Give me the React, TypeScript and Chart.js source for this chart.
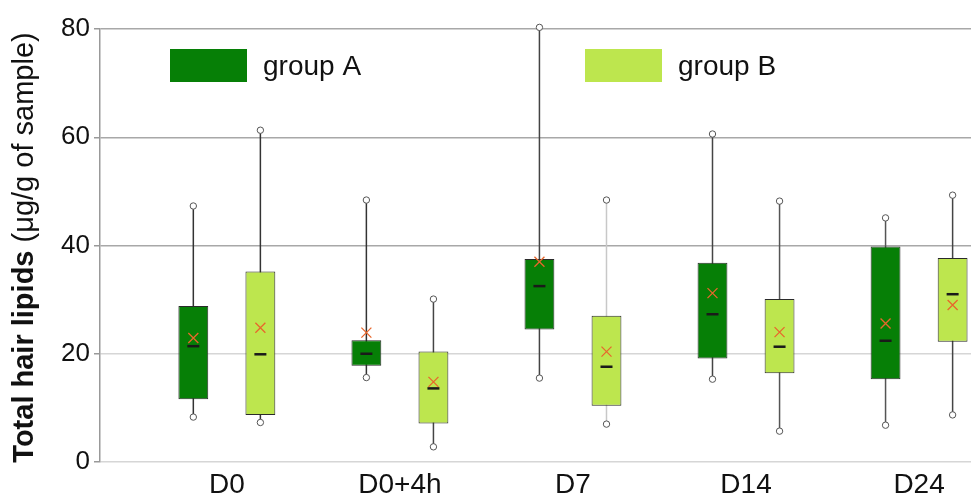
import React, { useEffect, useRef } from 'react';
import { Chart, registerables } from 'chart.js';

Chart.register(...registerables);

// ---- data ----
const categories = ['D0', 'D0+4h', 'D7', 'D14', 'D24'];
const seriesNames = ['group A', 'group B'];
const yTickValues = [0, 20, 40, 60, 80];
const yTitleBold = 'Total hair lipids';
const yTitleNormal = ' (μg/g of sample)';

const groupAMin = [8.3, 15.6, 15.5, 15.3, 6.8];
const groupAQ1 = [11.6, 17.8, 24.5, 19.1, 15.3];
const groupAMedian = [21.4, 20.0, 32.5, 27.3, 22.4];
const groupAMean = [22.9, 23.9, 37.0, 31.2, 25.6];
const groupAQ3 = [28.8, 22.5, 37.5, 36.8, 39.8];
const groupAMax = [47.3, 48.4, 80.3, 60.6, 45.1];

const groupBMin = [7.3, 2.8, 7.0, 5.7, 8.7];
const groupBQ1 = [8.7, 7.1, 10.4, 16.4, 22.2];
const groupBMedian = [19.9, 13.6, 17.6, 21.3, 31.0];
const groupBMean = [24.8, 14.8, 20.4, 24.0, 29.0];
const groupBQ3 = [35.2, 20.4, 27.0, 30.1, 37.7];
const groupBMax = [61.3, 30.1, 48.4, 48.2, 49.3];

// ---- styles ----
const FONT = "'Liberation Sans', Arial, sans-serif";
const colorA = '#067f06';
const colorB = '#bde64e';
const whiskerA = ['#333', '#333', '#444', '#444', '#555'];
const whiskerB = ['#333', '#444', '#c8c8c8', '#555', '#444'];

const groups = [
  { min: groupAMin, q1: groupAQ1, med: groupAMedian, mean: groupAMean, q3: groupAQ3, max: groupAMax, color: colorA, whisker: whiskerA },
  { min: groupBMin, q1: groupBQ1, med: groupBMedian, mean: groupBMean, q3: groupBQ3, max: groupBMax, color: colorB, whisker: whiskerB },
];

const boxExtras = {
  id: 'boxExtras',
  beforeDatasetsDraw(chart: any) {
    const y = chart.scales.y;
    const ctx = chart.ctx;
    groups.forEach((g, d) => {
      const meta = chart.getDatasetMeta(d);
      meta.data.forEach((bar: any, i: number) => {
        ctx.save();
        ctx.strokeStyle = g.whisker[i];
        ctx.lineWidth = 1.5;
        ctx.beginPath();
        ctx.moveTo(bar.x, y.getPixelForValue(g.max[i]));
        ctx.lineTo(bar.x, y.getPixelForValue(g.min[i]));
        ctx.stroke();
        ctx.restore();
      });
    });
  },
  afterDatasetsDraw(chart: any) {
    const y = chart.scales.y;
    const ctx = chart.ctx;
    groups.forEach((g, d) => {
      const meta = chart.getDatasetMeta(d);
      meta.data.forEach((bar: any, i: number) => {
        const x = bar.x;
        ctx.save();
        // median
        const ym = y.getPixelForValue(g.med[i]);
        ctx.strokeStyle = '#1a1a1a';
        ctx.lineWidth = 2.5;
        ctx.beginPath();
        ctx.moveTo(x - 6, ym);
        ctx.lineTo(x + 6, ym);
        ctx.stroke();
        // mean X
        const yx = y.getPixelForValue(g.mean[i]);
        ctx.strokeStyle = '#e8672c';
        ctx.lineWidth = 1.3;
        ctx.beginPath();
        ctx.moveTo(x - 5, yx - 5);
        ctx.lineTo(x + 5, yx + 5);
        ctx.moveTo(x + 5, yx - 5);
        ctx.lineTo(x - 5, yx + 5);
        ctx.stroke();
        // whisker end circles
        [g.max[i], g.min[i]].forEach((v) => {
          ctx.beginPath();
          ctx.arc(x, y.getPixelForValue(v), 3.2, 0, Math.PI * 2);
          ctx.fillStyle = '#fff';
          ctx.fill();
          ctx.strokeStyle = '#555';
          ctx.lineWidth = 1;
          ctx.stroke();
        });
        ctx.restore();
      });
    });
  },
  afterDraw(chart: any) {
    const ctx = chart.ctx;
    const area = chart.chartArea;
    // legend
    const items = [
      { x: area.left + 70, color: colorA, label: seriesNames[0] },
      { x: area.left + 485, color: colorB, label: seriesNames[1] },
    ];
    ctx.save();
    items.forEach((it) => {
      ctx.fillStyle = it.color;
      ctx.fillRect(it.x, area.top + 20, 77, 33);
      ctx.fillStyle = '#111';
      ctx.font = `28px ${FONT}`;
      ctx.textAlign = 'left';
      ctx.textBaseline = 'middle';
      ctx.fillText(it.label, it.x + 93, area.top + 38);
    });
    ctx.restore();

    // y title with mixed weights
    ctx.save();
    const cy = (area.top + area.bottom) / 2 + 2;
    ctx.translate(25, cy);
    ctx.rotate(-Math.PI / 2);
    ctx.textBaseline = 'middle';
    ctx.textAlign = 'left';
    ctx.fillStyle = '#111';
    const boldFont = `bold 29px ${FONT}`;
    const normFont = `29px ${FONT}`;
    ctx.font = boldFont;
    const wb = ctx.measureText(yTitleBold).width;
    ctx.font = normFont;
    const wn = ctx.measureText(yTitleNormal).width;
    const start = -(wb + wn) / 2;
    ctx.font = boldFont;
    ctx.fillText(yTitleBold, start, 0);
    ctx.font = normFont;
    ctx.fillText(yTitleNormal, start + wb, 0);
    ctx.restore();
  },
};

export default function App() {
  const ref = useRef<HTMLCanvasElement>(null);
  useEffect(() => {
    document.body.style.margin = '0';
    const chart = new Chart(ref.current as HTMLCanvasElement, {
      type: 'bar',
      data: {
        datasets: groups.map((g, d) => ({
          label: seriesNames[d],
          data: categories.map((_, i) => ({ x: i, y: [g.q1[i], g.q3[i]] })),
          backgroundColor: g.color,
          borderColor: '#2a2a2a',
          borderWidth: 1,
          borderSkipped: false,
          categoryPercentage: 0.775,
          barPercentage: 0.445,
          clip: false,
        })),
      } as any,
      options: {
        animation: false,
        responsive: true,
        maintainAspectRatio: false,
        layout: { padding: { top: 29, right: 0, left: 0, bottom: 0 } },
        plugins: { legend: { display: false }, tooltip: { enabled: false } },
        scales: {
          x: {
            type: 'linear',
            min: -0.733,
            max: 4.3,
            offset: false,
            grid: { display: false, drawTicks: false, offset: false },
            border: { display: false },
            afterBuildTicks: (scale: any) => {
              scale.ticks = categories.map((_, i) => ({ value: i }));
            },
            afterFit: (scale: any) => {
              scale.height = 35;
            },
            ticks: {
              autoSkip: false,
              maxRotation: 0,
              padding: 6,
              color: '#111',
              font: { family: FONT, size: 28 },
              callback: (v: any) => categories[v] ?? '',
            },
          },
          y: {
            min: 0,
            max: 80,
            afterBuildTicks: (scale: any) => {
              scale.ticks = yTickValues.map((v) => ({ value: v }));
            },
            afterFit: (scale: any) => {
              scale.width = 100;
            },
            grid: {
              color: (c: any) => (c.tick && c.tick.value >= 40 ? '#a8a8a8' : '#d6d6d6'),
              tickColor: '#999',
              tickLength: 6,
              lineWidth: 1.5,
            },
            border: { display: true, color: '#999', width: 1.5 },
            ticks: {
              padding: 4,
              color: '#111',
              font: { family: FONT, size: 26 },
            },
          },
        },
      } as any,
      plugins: [boxExtras],
    });
    return () => chart.destroy();
  }, []);
  return (
    <div style={{ width: 971, height: 497, position: 'relative' }}>
      <canvas ref={ref} />
    </div>
  );
}
